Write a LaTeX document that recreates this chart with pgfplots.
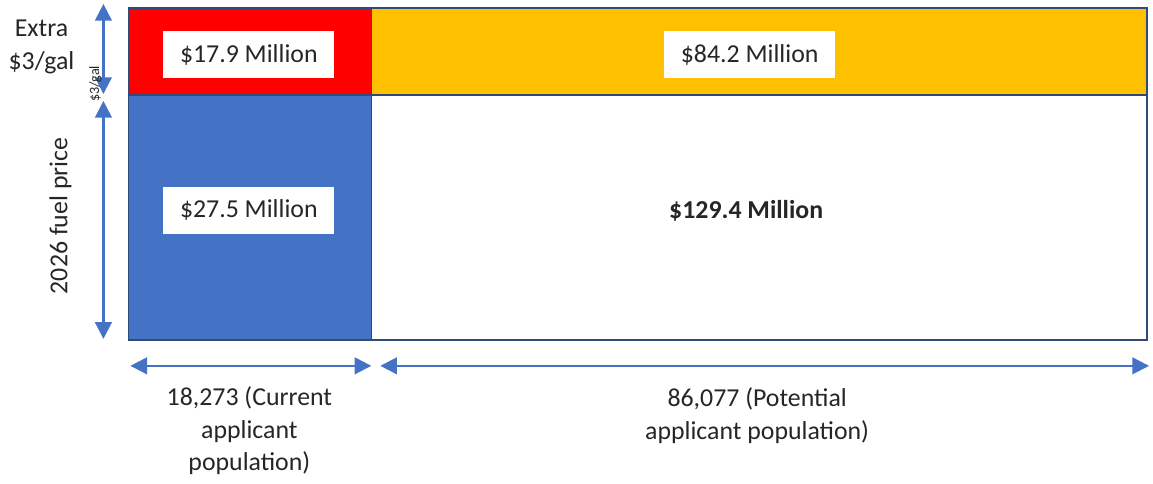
\documentclass[border=0pt]{standalone}
\usepackage{pgfplots}
\pgfplotsset{compat=1.18}
\usepackage{fontspec}
\setmainfont{Carlito}
\usetikzlibrary{arrows.meta}
\definecolor{cred}{HTML}{FF0000}
\definecolor{corange}{HTML}{FFC000}
\definecolor{cblue}{HTML}{4472C4}
\definecolor{cedge}{HTML}{2F4A78}
\begin{document}
\fontsize{15.5pt}{19.5pt}\selectfont
\begin{tikzpicture}
\begin{axis}[
  scale only axis, width=691.8pt, height=286.2pt,
  xmin=0, xmax=1153, ymin=0, ymax=477, y dir=reverse,
  hide axis, clip=false,
]
% cells: x1 x2 y1 y2 in picture units; value in $ million
\addplot[fill=cred, draw=cedge, line width=0.9pt] coordinates {(128,8) (371,8) (371,95) (128,95) (128,8)};
\addplot[fill=corange, draw=cedge, line width=0.9pt] coordinates {(371,8) (1147,8) (1147,95) (371,95) (371,8)};
\addplot[fill=cblue, draw=cedge, line width=0.9pt] coordinates {(128,95) (371,95) (371,340) (128,340) (128,95)};
\addplot[fill=white, draw=cedge, line width=0.9pt] coordinates {(371,95) (1147,95) (1147,340) (371,340) (371,95)};
\path (axis cs:0,0) -- (axis cs:1153,477);
% value labels
\tikzset{vbox/.style={fill=white, inner sep=0pt, minimum width=102.6pt, minimum height=28.2pt, text=black!85}}
\node[vbox] at (axis cs:248.5,54.5) {\$17.9 Million};
\node[vbox] at (axis cs:749.5,54.5) {\$84.2 Million};
\node[vbox] at (axis cs:248.5,210.5) {\$27.5 Million};
\node[text=black!85] at (axis cs:746,211) {\bfseries \$129.4 Million};
% arrows
\tikzset{arr/.style={draw=cblue, line width=1.3pt, {Triangle[length=10pt,width=10pt]}-{Triangle[length=10pt,width=10pt]}}}
\draw[arr] (axis cs:103,4) -- (axis cs:103,94);
\draw[arr] (axis cs:103,101) -- (axis cs:103,339);
\draw[arr] (axis cs:130,366) -- (axis cs:371,366);
\draw[arr] (axis cs:380,366) -- (axis cs:1149,366);
% axis-like labels
\node[align=center, text=black!85] at (axis cs:41,47) {Extra\\\$3/gal};
\node[rotate=90, text=black!85] at (axis cs:60,216) {2026 fuel price};
\node[rotate=90, font=\fontsize{8.5pt}{9pt}\selectfont, text=black!85] at (axis cs:95,84) {\$3/gal};
\node[align=center, text=black!85] at (axis cs:249,431) {18,273 (Current\\applicant\\population)};
\node[align=center, text=black!85, anchor=north] at (axis cs:757,379) {86,077 (Potential\\applicant population)};
\end{axis}
\end{tikzpicture}
\end{document}
